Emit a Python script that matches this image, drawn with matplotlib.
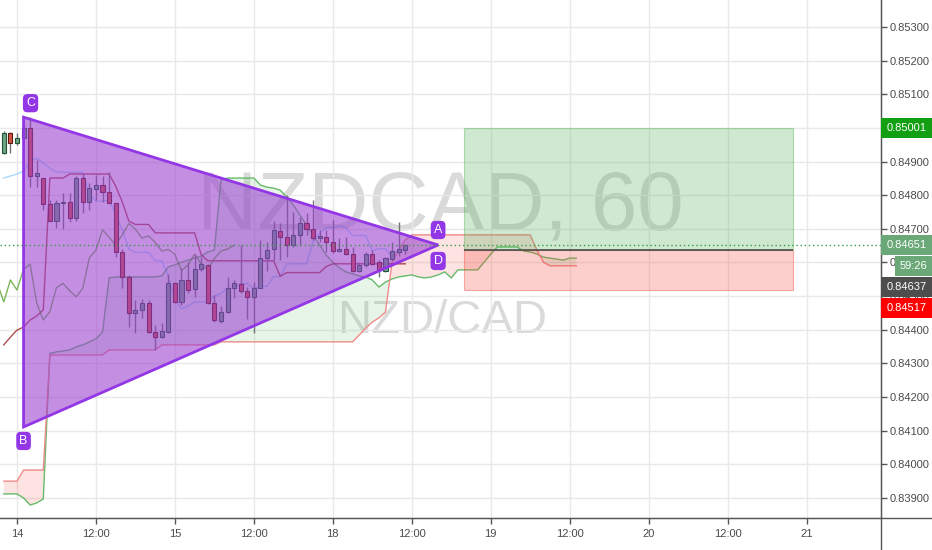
import numpy as np
import matplotlib.pyplot as plt
from matplotlib.patches import Polygon, Rectangle
from matplotlib.lines import Line2D
from matplotlib.colors import to_rgba

plt.rcParams['font.family'] = ['Liberation Sans', 'DejaVu Sans']

# NZDCAD 1h candles, bar index -2 .. 59 (bar 0 = 14th 00:00)
opens = [0.84924, 0.84984, 0.84956, 0.84971, 0.84999, 0.84857, 0.84850, 0.84773, 0.84724, 0.84776,
         0.84781, 0.84731, 0.84850, 0.84781, 0.84818, 0.84830, 0.84810, 0.84778, 0.84632, 0.84558,
         0.84449, 0.84459, 0.84479, 0.84394, 0.84379, 0.84394, 0.84538, 0.84483, 0.84548, 0.84520,
         0.84580, 0.84593, 0.84480, 0.84427, 0.84454, 0.84523, 0.84536, 0.84516, 0.84498, 0.84523,
         0.84614, 0.84639, 0.84695, 0.84675, 0.84652, 0.84682, 0.84716, 0.84699, 0.84672, 0.84677,
         0.84660, 0.84634, 0.84639, 0.84624, 0.84576, 0.84593, 0.84625, 0.84602, 0.84575, 0.84610,
         0.84630, 0.84638]
highs = [0.84990, 0.84989, 0.84986, 0.85006, 0.85032, 0.84905, 0.84851, 0.84786, 0.84786, 0.84806,
         0.84806, 0.84857, 0.84863, 0.84836, 0.84860, 0.84857, 0.84870, 0.84778, 0.84639, 0.84563,
         0.84488, 0.84491, 0.84488, 0.84414, 0.84421, 0.84566, 0.84543, 0.84583, 0.84602, 0.84625,
         0.84617, 0.84595, 0.84503, 0.84471, 0.84558, 0.84548, 0.84652, 0.84528, 0.84543, 0.84667,
         0.84662, 0.84724, 0.84716, 0.84800, 0.84751, 0.84736, 0.84746, 0.84786, 0.84697, 0.84697,
         0.84726, 0.84672, 0.84677, 0.84647, 0.84600, 0.84632, 0.84637, 0.84607, 0.84617, 0.84662,
         0.84721, 0.84655]
lows = [0.84922, 0.84925, 0.84949, 0.84968, 0.84823, 0.84824, 0.84756, 0.84724, 0.84702, 0.84700,
        0.84721, 0.84724, 0.84747, 0.84756, 0.84786, 0.84781, 0.84776, 0.84617, 0.84523, 0.84409,
        0.84389, 0.84434, 0.84391, 0.84340, 0.84375, 0.84391, 0.84480, 0.84474, 0.84508, 0.84498,
        0.84576, 0.84478, 0.84424, 0.84421, 0.84451, 0.84494, 0.84508, 0.84431, 0.84391, 0.84523,
        0.84576, 0.84607, 0.84607, 0.84617, 0.84647, 0.84652, 0.84682, 0.84667, 0.84662, 0.84632,
        0.84627, 0.84632, 0.84622, 0.84573, 0.84573, 0.84586, 0.84593, 0.84556, 0.84573, 0.84607,
        0.84620, 0.84625]
closes = [0.84986, 0.84956, 0.84971, 0.84999, 0.84857, 0.84867, 0.84773, 0.84724, 0.84776, 0.84781,
          0.84731, 0.84850, 0.84781, 0.84821, 0.84829, 0.84810, 0.84778, 0.84632, 0.84558, 0.84449,
          0.84459, 0.84479, 0.84394, 0.84379, 0.84396, 0.84538, 0.84483, 0.84548, 0.84518, 0.84580,
          0.84595, 0.84480, 0.84429, 0.84454, 0.84525, 0.84538, 0.84516, 0.84498, 0.84523, 0.84614,
          0.84637, 0.84697, 0.84675, 0.84652, 0.84682, 0.84716, 0.84699, 0.84672, 0.84679, 0.84660,
          0.84634, 0.84639, 0.84624, 0.84576, 0.84593, 0.84625, 0.84595, 0.84578, 0.84612, 0.84634,
          0.84640, 0.84651]

# Ichimoku: conversion / base line, bar -2 .. 59
tenkan = [0.84851, 0.84857, 0.84863, 0.84872, 0.84900, 0.84910, 0.84896, 0.84880, 0.84869, 0.84868,
          0.84868, 0.84868, 0.84868, 0.84803, 0.84782, 0.84782, 0.84785, 0.84744, 0.84697, 0.84640,
          0.84630, 0.84630, 0.84630, 0.84605, 0.84605, 0.84559, 0.84490, 0.84462, 0.84471, 0.84483,
          0.84483, 0.84483, 0.84500, 0.84508, 0.84523, 0.84523, 0.84537, 0.84537, 0.84522, 0.84529,
          0.84529, 0.84558, 0.84558, 0.84596, 0.84596, 0.84596, 0.84596, 0.84662, 0.84688, 0.84704,
          0.84704, 0.84709, 0.84704, 0.84680, 0.84680, 0.84680, 0.84635, 0.84641, 0.84641, 0.84617,
          0.84639, 0.84639]
kijun = ([0.84355, 0.84378, 0.84399, 0.84408, 0.84429, 0.84441, 0.84459]
         + [0.84851] * 3 + [0.84863] * 7
         + [0.84827, 0.84780, 0.84723, 0.84713, 0.84713, 0.84713]
         + [0.84688] * 7 + [0.84623] + [0.84605] * 11 + [0.84559]
         + [0.84570] * 6 + [0.84588] + [0.84596] * 12)

# leading spans, bar -2 .. 85 (26 bars ahead of price)
span_a = [0.83912, 0.83912, 0.83912, 0.83900, 0.83879, 0.83885, 0.83897,
          0.84330, 0.84334, 0.84337, 0.84340, 0.84349, 0.84355, 0.84364, 0.84373, 0.84393,
          0.84554, 0.84557, 0.84557, 0.84557, 0.84557, 0.84557, 0.84557, 0.84557,
          0.84560, 0.84587, 0.84593, 0.84601, 0.84607, 0.84613, 0.84619, 0.84631, 0.84637,
          0.84845, 0.84851, 0.84851, 0.84851, 0.84851, 0.84851, 0.84830, 0.84824, 0.84821, 0.84815,
          0.84795, 0.84771, 0.84741, 0.84711, 0.84682, 0.84652, 0.84622, 0.84601, 0.84584, 0.84572,
          0.84566, 0.84560, 0.84557, 0.84548, 0.84527, 0.84542, 0.84551, 0.84557, 0.84560, 0.84563,
          0.84557, 0.84554, 0.84557, 0.84563, 0.84572, 0.84554, 0.84578, 0.84578, 0.84578, 0.84578,
          0.84601, 0.84625, 0.84646, 0.84646, 0.84646, 0.84646, 0.84634, 0.84631, 0.84625, 0.84616,
          0.84613, 0.84610, 0.84607, 0.84613, 0.84613]
span_b = ([0.83950] * 3 + [0.83983] * 4 + [0.84325] * 9 + [0.84340] * 8 + [0.84355] * 9
          + [0.84364] * 21 + [0.84384, 0.84405, 0.84423, 0.84435, 0.84453]
          + [0.84601, 0.84637, 0.84667] + [0.84682] * 19 + [0.84637, 0.84601] + [0.84590] * 5)

# triangle pattern (bar, price)
tri_bars = [1, 1, 64]
tri_prices = [0.85032, 0.84111, 0.84652]

# long position
pos_start, pos_end = 68, 118
target, entry, stop = 0.85001, 0.84637, 0.84517
last_price = 0.84651
countdown = '59:26'

time_ticks = [0, 12, 24, 36, 48, 60, 72, 84, 96, 108, 120]
time_labels = ['14', '12:00', '15', '12:00', '18', '12:00', '19', '12:00', '20', '12:00', '21']
price_ticks = [0.839, 0.840, 0.841, 0.842, 0.843, 0.844, 0.845, 0.846, 0.847, 0.848,
               0.849, 0.850, 0.851, 0.852, 0.853]

bars = np.arange(-2, -2 + len(opens))
cloud_x = np.arange(-2, -2 + len(span_a))

fig = plt.figure(figsize=(9.32, 5.5), dpi=100)
ax = fig.add_axes([0, 32 / 550, 881 / 932, 518 / 550])
ax.set_xlim(-2.58, 131.3)
ax.set_ylim(0.838404, 0.853803)

ax.grid(color='#e9e9e9', lw=1, zorder=0)
ax.set_axisbelow(True)

# watermark
ax.text(0.5, 0.60, 'NZDCAD, 60', transform=ax.transAxes, ha='center', va='center',
        fontsize=60, color='#dadada', zorder=0.5)
ax.text(0.502, 0.38, 'NZD/CAD', transform=ax.transAxes, ha='center', va='center',
        fontsize=34, color='#dadada', zorder=0.5)

# cloud
a = np.array(span_a)
b = np.array(span_b)
ax.fill_between(cloud_x, a, b, where=a >= b, interpolate=True, color='#4caf50', alpha=0.13, lw=0, zorder=1)
ax.fill_between(cloud_x, a, b, where=a < b, interpolate=True, color='#f44336', alpha=0.15, lw=0, zorder=1)
ax.plot(cloud_x, a, color='#66bb6a', lw=1, zorder=2)
ax.plot(cloud_x, b, color='#ef8a8a', lw=1, zorder=2)
ax.plot(bars, tenkan, color='#0496ff', lw=1, alpha=0.35, zorder=2)
ax.plot(bars, kijun, color='#991515', lw=1, alpha=0.75, zorder=2)
ax.plot(bars - 26, closes, color='#459915', lw=1, alpha=0.7, zorder=2)

# candles
o = np.array(opens)
c = np.array(closes)
up = c >= o
body_lo = np.minimum(o, c)
body_h = np.maximum(np.abs(c - o), 0.00003)
ax.vlines(bars, lows, highs, color='#737375', lw=1, zorder=3)
ax.bar(bars[up], body_h[up], bottom=body_lo[up], width=0.62, color='#6ba583',
       edgecolor='#225437', lw=0.8, zorder=3.1)
ax.bar(bars[~up], body_h[~up], bottom=body_lo[~up], width=0.62, color='#d75442',
       edgecolor='#5b1a13', lw=0.8, zorder=3.1)

# long position box
ax.add_patch(Rectangle((pos_start, entry), pos_end - pos_start, target - entry,
                       facecolor=to_rgba('#4caf50', 0.27), edgecolor=to_rgba('#4caf50', 0.4), lw=0.8, zorder=3.5))
ax.add_patch(Rectangle((pos_start, stop), pos_end - pos_start, entry - stop,
                       facecolor=to_rgba('#f44336', 0.25), edgecolor=to_rgba('#f44336', 0.4), lw=0.8, zorder=3.5))
ax.hlines(entry, pos_start, pos_end, color='#4d4d4d', lw=1.2, zorder=3.6)

# triangle pattern
tri = Polygon(list(zip(tri_bars, tri_prices)), closed=True,
              facecolor=to_rgba('#9a3fd0', 0.58), edgecolor='#9336e6', lw=2, zorder=4)
ax.add_patch(tri)
tri_tags = [('C', 0, (7, 14)), ('B', 1, (0, -14)), ('A', 2, (0, 15)), ('D', 2, (0, -16))]
for name, k, off in tri_tags:
    ax.annotate(name, (tri_bars[k], tri_prices[k]), xytext=off, textcoords='offset pixels',
                ha='center', va='center', color='white', fontsize=9, zorder=6,
                bbox=dict(boxstyle='round,pad=0.25,rounding_size=0.35', fc='#9336e6', ec='none'))

# last price line
ax.axhline(last_price, color='#3a9a4a', lw=1, ls=(0, (1, 2)), zorder=5)

# axes styling
for s in ['top', 'left']:
    ax.spines[s].set_visible(False)
ax.spines['right'].set_color('#555555')
ax.spines['bottom'].set_color('#555555')
ax.yaxis.tick_right()
ax.set_yticks(price_ticks)
ax.set_yticklabels([f'{p:.5f}' for p in price_ticks])
ax.set_xticks(time_ticks)
ax.set_xticklabels(time_labels)
ax.tick_params(axis='y', length=4, width=1, color='#555555', pad=2, labelsize=8, labelcolor='#4a4a4a')
ax.tick_params(axis='x', length=4, width=1, color='#555555', pad=4, labelsize=8, labelcolor='#4a4a4a')

fig.add_artist(Line2D([0, 1], [32 / 550, 32 / 550], color='#555555', lw=1, transform=fig.transFigure))
fig.add_artist(Line2D([881 / 932, 881 / 932], [0, 1], color='#555555', lw=1, transform=fig.transFigure))

# price scale labels
y_top, y_bot = ax.get_ylim()[1], ax.get_ylim()[0]


def price_px(p):
    return (y_top - p) / (y_top - y_bot) * 518


def scale_label(ypx, text, bg, x0=881, w=51, center=False):
    fig.add_artist(Rectangle((x0 / 932, 1 - (ypx + 10) / 550), w / 932, 20 / 550,
                             transform=fig.transFigure, facecolor=bg, edgecolor='none', zorder=10))
    tx = (x0 + w / 2) / 932 if center else (x0 + 6) / 932
    fig.text(tx, 1 - ypx / 550, text, ha='center' if center else 'left', va='center',
             color='white', fontsize=8, zorder=11)


scale_label(price_px(target), f'{target:.5f}', '#12a012')
y_last = price_px(last_price)
scale_label(y_last, f'{last_price:.5f}', '#6aa878')
y_cd = y_last + 21
scale_label(y_cd, countdown, '#6aa878', x0=895, w=37, center=True)
y_entry = max(price_px(entry), y_cd + 21)
scale_label(y_entry, f'{entry:.5f}', '#4d4d4d')
y_stop = max(price_px(stop), y_entry + 21)
scale_label(y_stop, f'{stop:.5f}', '#ff0000')

fig.savefig('out.png', dpi=100)
